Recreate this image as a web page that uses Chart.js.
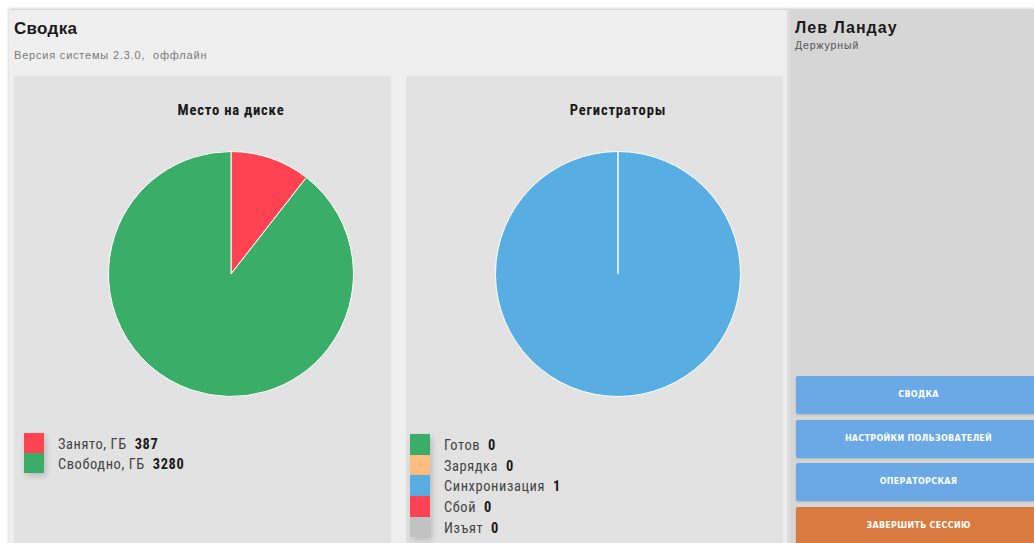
<!DOCTYPE html>
<html><head><meta charset="utf-8">
<script src="https://cdn.jsdelivr.net/npm/chart.js@4"></script>
<style>
html,body{margin:0;padding:0;background:#fff;width:1034px;height:543px;overflow:hidden;font-family:"Liberation Sans",Arial,sans-serif;}
#main{position:absolute;left:9px;top:10px;width:780px;height:540px;background:#efefef;box-shadow:0 -1px 3px rgba(0,0,0,0.25);}
#side{position:absolute;left:789px;top:10px;width:245px;height:540px;background:#d6d6d6;box-shadow:0 -1px 3px rgba(0,0,0,0.25);border-left:1px solid #e2e2e2;}
.h1{position:absolute;left:5px;top:9px;font-size:17px;font-weight:bold;color:#1a1a1a;letter-spacing:0.3px;}
.sub{position:absolute;left:5px;top:39px;font-size:11px;color:#7a7a7a;letter-spacing:0.8px;}
.panel{position:absolute;top:66px;width:377px;height:480px;background:#e2e2e2;}
.ptitle{position:absolute;top:25px;width:300px;text-align:center;font-family:"Roboto Condensed","Liberation Sans Narrow","DejaVu Sans Condensed",Roboto,sans-serif;font-weight:bold;font-size:14.6px;letter-spacing:0.8px;color:#1a1a1a;}
.cv{position:absolute;width:246px;height:246px;}
.legend{position:absolute;font-family:"Roboto Condensed","Liberation Sans Narrow","DejaVu Sans Condensed",Roboto,sans-serif;font-size:14.4px;color:#444;letter-spacing:0.6px;}
.legend .sw{position:absolute;left:0;width:20px;box-shadow:2px 3px 6px rgba(0,0,0,0.18);}
.legend .row{position:absolute;white-space:nowrap;}
.legend b{color:#1a1a1a;margin-left:4px;}
.name{position:absolute;left:5px;top:9px;font-size:16px;font-weight:bold;color:#1a1a1a;letter-spacing:1px;}
.role{position:absolute;left:5px;top:29px;font-size:10.5px;color:#555;letter-spacing:0.9px;}
.btn{position:absolute;left:6px;width:245px;height:38px;border-radius:2px;color:#fff;font-size:8px;font-weight:bold;letter-spacing:0.3px;text-align:center;line-height:38px;box-shadow:0 1px 2px rgba(0,0,0,0.15);font-family:"DejaVu Sans",sans-serif;}
.blue{background:#6aa9e6;}
.orange{background:#d97b40;}
</style></head>
<body>
<div id="main">
  <div class="h1">Сводка</div>
  <div class="sub">Версия системы 2.3.0,&nbsp; оффлайн</div>
  <div class="panel" style="left:5px;">
    <div class="ptitle" style="left:67px;">Место на диске</div>
    <div class="cv" style="left:94px;top:75px;"><canvas id="c1"></canvas></div>
    <div class="legend" id="lg1" style="left:10px;top:357px;"></div>
  </div>
  <div class="panel" style="left:397px;">
    <div class="ptitle" style="left:62px;">Регистраторы</div>
    <div class="cv" style="left:89px;top:75px;"><canvas id="c2"></canvas></div>
    <div class="legend" id="lg2" style="left:4px;top:358px;"></div>
  </div>
</div>
<div id="side">
  <div class="name">Лев Ландау</div>
  <div class="role">Держурный</div>
  <div class="btn blue" style="top:366px;">СВОДКА</div>
  <div class="btn blue" style="top:410px;">НАСТРОЙКИ ПОЛЬЗОВАТЕЛЕЙ</div>
  <div class="btn blue" style="top:453px;">ОПЕРАТОРСКАЯ</div>
  <div class="btn orange" style="top:497px;">ЗАВЕРШИТЬ СЕССИЮ</div>
</div>
<script>
const diskLabels = ["Занято, ГБ", "Свободно, ГБ"];
const diskValues = [387, 3280];
const diskColors = ["#ff4352", "#3aae68"];

const regLabels = ["Готов", "Зарядка", "Синхронизация", "Сбой", "Изъят"];
const regValues = [0, 0, 1, 0, 0];
const regColors = ["#3aae68", "#ffbe7d", "#58aee3", "#ff4352", "#c2c2c2"];

function makePie(id, labels, values, colors) {
  return new Chart(document.getElementById(id), {
    type: 'pie',
    data: { labels: labels, datasets: [{ data: values, backgroundColor: colors, borderColor: '#ffffff', borderWidth: 1 }] },
    options: {
      responsive: true, maintainAspectRatio: false, animation: false,
      layout: { padding: 0 },
      plugins: { legend: { display: false }, tooltip: { enabled: false } }
    }
  });
}
function makeLegend(id, labels, values, colors, rowH) {
  const el = document.getElementById(id);
  labels.forEach((l, i) => {
    const sw = document.createElement('div');
    sw.className = 'sw';
    sw.style.top = (i * rowH) + 'px';
    sw.style.height = rowH + 'px';
    sw.style.background = colors[i];
    el.appendChild(sw);
    const r = document.createElement('div');
    r.className = 'row';
    r.style.left = '34px';
    r.style.top = (i * rowH + 3) + 'px';
    r.innerHTML = l + ' <b>' + values[i] + '</b>';
    el.appendChild(r);
  });
}
makePie('c1', diskLabels, diskValues, diskColors);
makePie('c2', regLabels, regValues, regColors);
makeLegend('lg1', diskLabels, diskValues, diskColors, 20);
makeLegend('lg2', regLabels, regValues, regColors, 20.7);
</script>
</body></html>
